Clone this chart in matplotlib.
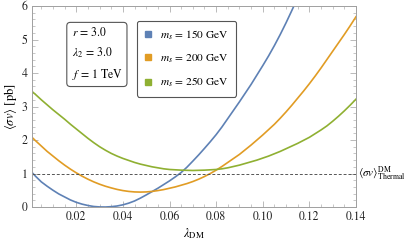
import numpy as np
import matplotlib
matplotlib.use('Agg')
import matplotlib.pyplot as plt
from matplotlib.lines import Line2D
from matplotlib.ticker import MultipleLocator

plt.rcParams['mathtext.fontset'] = 'stix'
plt.rcParams['font.family'] = 'STIXGeneral'

lam = [0.001, 0.0025, 0.005, 0.0075, 0.01, 0.0125, 0.015, 0.0175, 0.02, 0.0225,
       0.025, 0.0275, 0.03, 0.0325, 0.035, 0.0375, 0.04, 0.0425, 0.045, 0.0475,
       0.05, 0.0525, 0.055, 0.0575, 0.06, 0.0625, 0.065, 0.0675, 0.07, 0.0725,
       0.075, 0.0775, 0.08, 0.0825, 0.085, 0.0875, 0.09, 0.0925, 0.095, 0.0975,
       0.1, 0.1025, 0.105, 0.1075, 0.11, 0.1125, 0.115, 0.1175, 0.12, 0.1225,
       0.125, 0.1275, 0.13, 0.1325, 0.135, 0.1375, 0.14]

# <sigma v> [pb] for each m_s
sv_150 = [1.03, 0.92, 0.75, 0.62, 0.50, 0.39, 0.30, 0.21, 0.14, 0.085,
          0.045, 0.015, 0.002, 0.0, 0.01, 0.03, 0.065, 0.115, 0.18, 0.265,
          0.36, 0.46, 0.56, 0.67, 0.78, 0.90, 1.03, 1.19, 1.37, 1.555,
          1.75, 1.95, 2.16, 2.39, 2.64, 2.89, 3.14, 3.40, 3.66, 3.94,
          4.22, 4.51, 4.82, 5.15, 5.50, 5.87, 6.25, 6.65, 7.05, 7.47,
          7.90, 8.35, 8.80, 9.30, 9.80, 10.3, 10.8]
sv_200 = [2.08, 1.98, 1.82, 1.66, 1.52, 1.38, 1.25, 1.13, 1.02, 0.92,
          0.83, 0.75, 0.68, 0.62, 0.57, 0.525, 0.49, 0.465, 0.45, 0.445,
          0.45, 0.465, 0.49, 0.52, 0.56, 0.60, 0.65, 0.70, 0.76, 0.83,
          0.91, 1.00, 1.10, 1.21, 1.33, 1.45, 1.57, 1.71, 1.85, 2.00,
          2.15, 2.31, 2.47, 2.65, 2.84, 3.04, 3.25, 3.46, 3.68, 3.91,
          4.15, 4.40, 4.65, 4.90, 5.15, 5.41, 5.68]
sv_250 = [3.45, 3.36, 3.20, 3.05, 2.90, 2.76, 2.62, 2.47, 2.33, 2.19,
          2.05, 1.92, 1.80, 1.695, 1.60, 1.52, 1.45, 1.39, 1.33, 1.28,
          1.24, 1.20, 1.17, 1.14, 1.12, 1.11, 1.10, 1.095, 1.09, 1.095,
          1.10, 1.11, 1.12, 1.14, 1.17, 1.21, 1.25, 1.30, 1.35, 1.40,
          1.46, 1.52, 1.59, 1.66, 1.74, 1.82, 1.90, 1.99, 2.08, 2.19,
          2.30, 2.42, 2.56, 2.71, 2.87, 3.04, 3.22]

series = [('150', sv_150, '#5e81b5'),
          ('200', sv_200, '#e19c24'),
          ('250', sv_250, '#8fb032')]
sv_thermal = 1.0

fig = plt.figure(figsize=(4.07, 2.40), dpi=100)
ax = fig.add_axes([0.0786, 0.1375, 0.7961, 0.8375])

for mass, vals, col in series:
    ax.plot(lam, vals, color=col, lw=1.2, solid_joinstyle='round')
ax.axhline(sv_thermal, color='#555555', lw=0.7, ls=(0, (3, 2)))

ax.set_xlim(0.001, 0.14)
ax.set_ylim(0, 6)
ax.xaxis.set_minor_locator(MultipleLocator(0.005))
ax.yaxis.set_major_locator(MultipleLocator(1))
ax.yaxis.set_minor_locator(MultipleLocator(0.2))
ax.set_xticks([0.02, 0.04, 0.06, 0.08, 0.10, 0.12, 0.14])
ax.set_xticklabels(['0.02', '0.04', '0.06', '0.08', '0.10', '0.12', '0.14'])
ax.tick_params(which='both', direction='in', top=True, right=True,
               color='#b0b0b0', labelsize=8.5, labelcolor='#222222', pad=3)
ax.tick_params(which='major', length=4, width=0.6)
ax.tick_params(which='minor', length=2, width=0.5)
for s in ax.spines.values():
    s.set_color('#a0a0a0')
    s.set_linewidth(0.7)

ax.set_xlabel(r'$\lambda_{\rm DM}$', fontsize=9, labelpad=2)
ax.set_ylabel(r'$\langle \sigma v\rangle$ [pb]', fontsize=9, labelpad=2)

ax.text(1.005, sv_thermal, r'$\langle \sigma v\rangle^{\rm DM}_{\rm Thermal}$',
        transform=ax.get_yaxis_transform(), fontsize=8, va='center', ha='left')

ax.text(0.122, 0.9, '$r\\, =\\, 3.0$\n$\\lambda_2\\, =\\, 3.0$\n$f\\, =\\, 1$ TeV',
        transform=ax.transAxes, fontsize=8.5, va='top', ha='left',
        linespacing=1.6,
        bbox=dict(boxstyle='round,pad=0.4,rounding_size=0.3', fc='white',
                  ec='#555555', lw=0.8))

handles = [Line2D([], [], marker='s', ls='none', color=col, markersize=4)
           for _, _, col in series]
labels = [r'$m_s\, =\, %s$ GeV' % m for m, _, _ in series]
leg = ax.legend(handles, labels, loc='upper left', bbox_to_anchor=(0.305, 0.955),
                fontsize=8.2, frameon=True, fancybox=True, handlelength=0.8,
                handletextpad=0.6, labelspacing=0.95, borderpad=0.65,
                edgecolor='#555555', framealpha=1)
leg.get_frame().set_linewidth(0.8)

fig.savefig('out.png', dpi=100)
